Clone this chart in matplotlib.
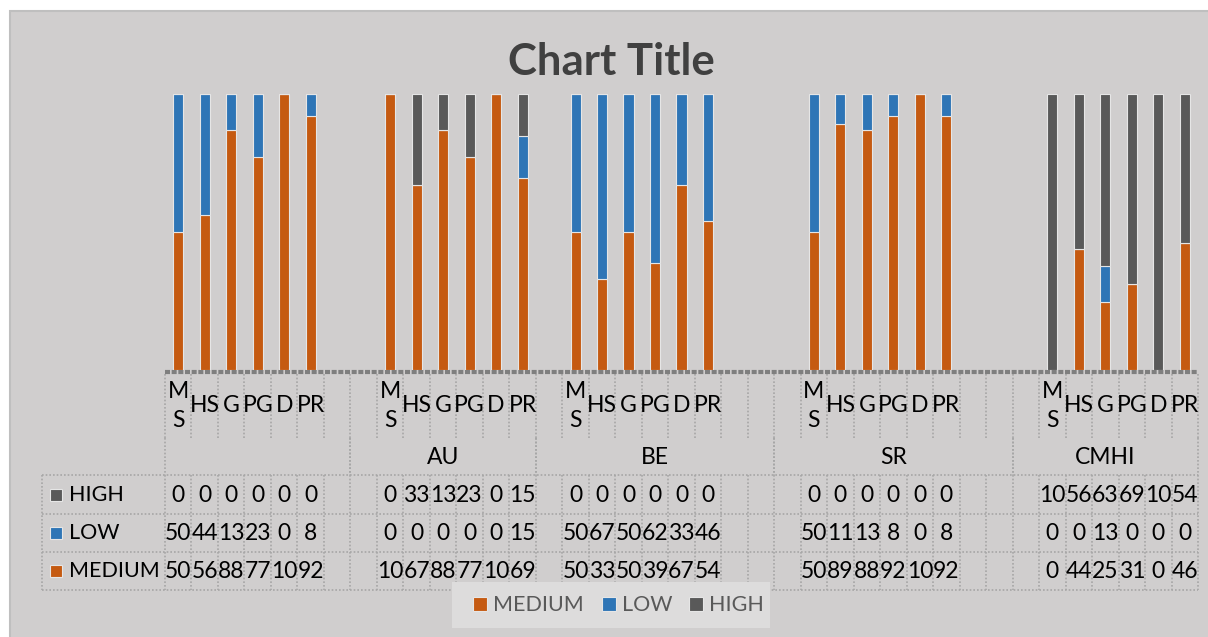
import matplotlib
matplotlib.use("Agg")
import matplotlib.pyplot as plt
import matplotlib.transforms as mtransforms
from matplotlib.patches import Rectangle
import numpy as np

# ---------------- data ----------------
levels = ["MS", "HS", "G", "PG", "D", "PR"]
level_labels = ["M\nS", "HS", "G", "PG", "D", "PR"]
groups = ["", "AU", "BE", "SR", "CMHI"]
series = ["MEDIUM", "LOW", "HIGH"]

medium = [50, 56, 88, 77, 100, 92,
          100, 67, 88, 77, 100, 69,
          50, 33, 50, 39, 67, 54,
          50, 89, 88, 92, 100, 92,
          0, 44, 25, 31, 0, 46]
low = [50, 44, 13, 23, 0, 8,
       0, 0, 0, 0, 0, 15,
       50, 67, 50, 62, 33, 46,
       50, 11, 13, 8, 0, 8,
       0, 0, 13, 0, 0, 0]
high = [0, 0, 0, 0, 0, 0,
        0, 33, 13, 23, 0, 15,
        0, 0, 0, 0, 0, 0,
        0, 0, 0, 0, 0, 0,
        100, 56, 63, 69, 100, 54]

colors = {"MEDIUM": "#C55A11", "LOW": "#2E75B6", "HIGH": "#595959"}

# layout: blank slots before / after each group (as in the source sheet)
lead_blank = [0, 1, 1, 1, 1]
trail_blank = [1, 0, 2, 2, 0]

# ---------------- figure ----------------
W, H = 1208, 637
FONT = "Lato"
plt.rcParams["font.family"] = [FONT, "DejaVu Sans"]
fig = plt.figure(figsize=(W / 100, H / 100), dpi=100, facecolor="white")

# overlay axes in pixel coordinates
ov = fig.add_axes([0, 0, 1, 1], zorder=0)
ov.set_xlim(0, W)
ov.set_ylim(H, 0)
ov.axis("off")
ov.add_patch(Rectangle((10, 11), W, H, facecolor="#D0CECE",
                       edgecolor="#BFBFBF", lw=1.5))

# slot positions
slot_x = []
group_span = []
s = 0
for gi, g in enumerate(groups):
    start = s
    s += lead_blank[gi]
    for li in range(len(levels)):
        slot_x.append(s)
        s += 1
    s += trail_blank[gi]
    group_span.append((start, s))
n_slots = s
slot_x = np.array(slot_x)

PL, PR_, PT, PB = 165, 1198, 94, 370
ax = fig.add_axes([PL / W, 1 - PB / H, (PR_ - PL) / W, (PB - PT) / H], zorder=2)
ax.set_xlim(-0.5, n_slots - 0.5)
ax.set_ylim(0, 1)
ax.patch.set_alpha(0)
for sp in ax.spines.values():
    sp.set_visible(False)
ax.set_xticks([])
ax.set_yticks([])

vals = {"MEDIUM": np.array(medium, float), "LOW": np.array(low, float),
        "HIGH": np.array(high, float)}
total = vals["MEDIUM"] + vals["LOW"] + vals["HIGH"]
bottom = np.zeros(len(slot_x))
for name in series:
    frac = vals[name] / total
    ax.bar(slot_x, frac, bottom=bottom, width=0.38, color=colors[name],
           edgecolor="#E6E6E6", linewidth=0.8)
    bottom += frac

# blended transform: x in slot units, y in pixels
tr = mtransforms.blended_transform_factory(ax.transData, ov.transData)

def xb(k):  # boundary x of slot k (left edge)
    return k - 0.5

grid_kw = dict(color="#A6A6A6", lw=1.2, linestyle=(0, (1, 1.2)), transform=tr,
               zorder=1)

# axis line
ov.plot([xb(0), xb(n_slots)], [372, 372], color="#7F7F7F", lw=3,
        linestyle=(0, (1.2, 0.4)), transform=tr, zorder=3, clip_on=False)

# vertical lines for tick label row
for k in range(n_slots + 1):
    ov.plot([xb(k), xb(k)], [374, 438], **grid_kw)
# group boundaries in second row
for (a, b) in group_span:
    for k in (a, b):
        ov.plot([xb(k), xb(k)], [438, 475], **grid_kw)
# table vertical lines
for k in range(n_slots + 1):
    ov.plot([xb(k), xb(k)], [475, 590], **grid_kw)
ov.plot([42, 42], [475, 590], color="#A6A6A6", lw=1.2,
        linestyle=(0, (1, 1.2)), zorder=1)
# horizontal table lines
for y in (475, 514, 552, 590):
    ov.add_line(plt.Line2D([42, PR_], [y, y], color="#A6A6A6", lw=1.2,
                           linestyle=(0, (1, 1.2)), zorder=1))

TXT = 16.5
# category labels
for i, x in enumerate(slot_x):
    lab = level_labels[i % len(levels)]
    ov.text(x, 406, lab, transform=tr, ha="center", va="center",
            fontsize=TXT, color="black", linespacing=1.45)
for gi, (a, b) in enumerate(group_span):
    ov.text((xb(a) + xb(b)) / 2, 457, groups[gi], transform=tr, ha="center",
            va="center", fontsize=TXT, color="black")

# table rows (HIGH, LOW, MEDIUM)
row_y = {"HIGH": 495, "LOW": 533, "MEDIUM": 571}
for name in ["HIGH", "LOW", "MEDIUM"]:
    y = row_y[name]
    ov.add_patch(Rectangle((50, y - 6), 12, 12, facecolor=colors[name],
                           edgecolor="#E6E6E6", lw=0.8))
    ov.text(69, y, name, ha="left", va="center", fontsize=15.5,
            color="black")
    for i, x in enumerate(slot_x):
        v = int(vals[name][i])
        s_txt = str(v)[:2]  # cell too narrow: Excel shows only first 2 digits
        ov.text(x, y, s_txt, transform=tr, ha="center", va="center",
                fontsize=TXT, color="black")

# title
ov.text(611, 62, "Chart Title", ha="center", va="center", fontsize=31.5,
        fontweight="bold", color="#404040")

# legend
ov.add_patch(Rectangle((452, 582), 318, 46, facecolor="#DDDCDC",
                       edgecolor="none"))
leg_items = [("MEDIUM", 473, 493), ("LOW", 602, 622), ("HIGH", 689, 709)]
for name, mx, tx in leg_items:
    ov.add_patch(Rectangle((mx, 597), 14, 14, facecolor=colors[name],
                           edgecolor="#E6E6E6", lw=0.8))
    ov.text(tx, 605, name, ha="left", va="center", fontsize=15.5,
            color="#595959")

fig.savefig("out.png", dpi=100, facecolor="white")
